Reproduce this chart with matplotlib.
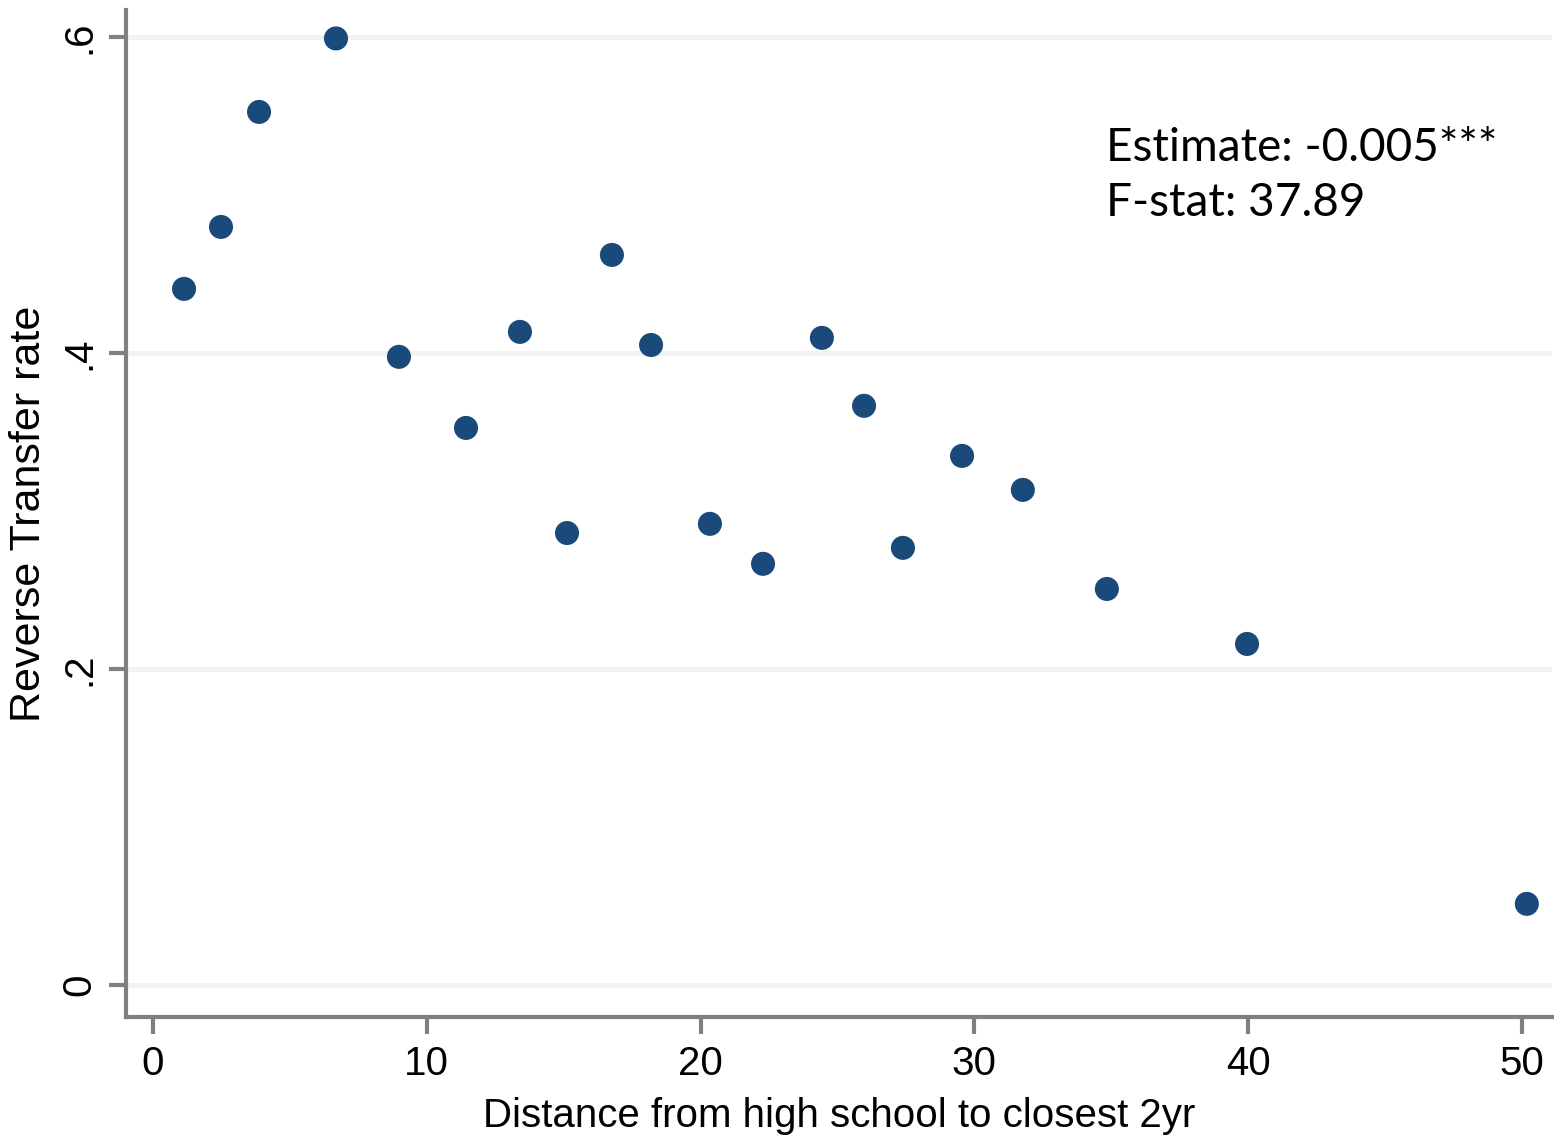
import matplotlib
matplotlib.use("Agg")
import matplotlib.pyplot as plt

distance = [1.13, 2.48, 3.87, 6.68, 8.98, 11.43, 13.40, 15.12, 16.76, 18.19,
            20.34, 22.28, 24.43, 25.97, 27.39, 29.55, 31.77, 34.84, 39.96, 50.18]
rate = [0.4405, 0.4797, 0.5525, 0.599, 0.3975, 0.3525, 0.4133, 0.286, 0.462, 0.405,
        0.2918, 0.2665, 0.4095, 0.3665, 0.2766, 0.3348, 0.3133, 0.2506, 0.2158, 0.0513]
xticks = [0, 10, 20, 30, 40, 50]
yticks = [0, 0.2, 0.4, 0.6]
ytick_labels = ["0", ".2", ".4", ".6"]
annotation = ["Estimate: -0.005***", "F-stat: 37.89"]

fig = plt.figure(figsize=(15.58, 11.37), dpi=100)
ax = fig.add_axes([126/1558, 1 - 1017/1137, (1552-126)/1558, (1017-10)/1137])

tick_font = ["Liberation Sans", "DejaVu Sans"]

ax.scatter(distance, rate, s=300, color="#1a4a7a", edgecolors="none", zorder=3)
ax.set_xlim(-0.99, 51.1)
ax.set_ylim(-0.0203, 0.617)
ax.set_xticks(xticks)
ax.set_yticks(yticks)
ax.set_yticklabels(ytick_labels, rotation=90, va="center")
for t in ax.get_xticklabels() + ax.get_yticklabels():
    t.set_family(tick_font)
    t.set_fontsize(29)
ax.grid(axis="y", color="#eef3f3", linewidth=3.5, zorder=0)
ax.grid(axis="x", visible=False)
for s in ["top", "right"]:
    ax.spines[s].set_visible(False)
for s in ["left", "bottom"]:
    ax.spines[s].set_color("#808080")
    ax.spines[s].set_linewidth(3)
ax.tick_params(axis="both", direction="out", length=12, width=3, color="#808080", pad=8)
ax.set_xlabel("Distance from high school to closest 2yr", family=tick_font, fontsize=29, labelpad=10)
ax.set_ylabel("Reverse Transfer rate", family=tick_font, fontsize=31, labelpad=8)

fig.text(1106/1558, 1 - 161/1137, annotation[0], family=["Lato", "DejaVu Sans"],
         fontsize=33, va="baseline", ha="left")
fig.text(1106/1558, 1 - 216/1137, annotation[1], family=["Lato", "DejaVu Sans"],
         fontsize=33, va="baseline", ha="left")

fig.savefig("out.png", dpi=100)
